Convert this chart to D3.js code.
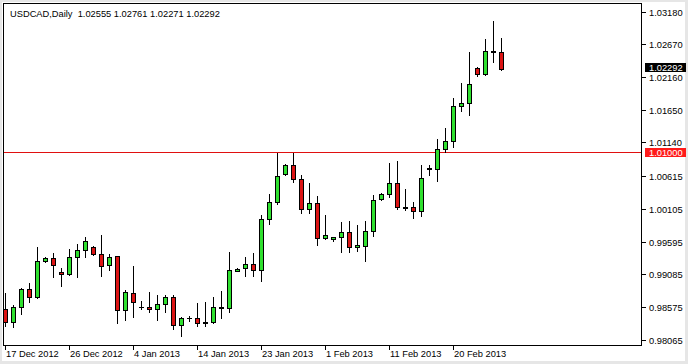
<!DOCTYPE html>
<html>
<head>
<meta charset="utf-8">
<script src="https://cdn.jsdelivr.net/npm/d3@7"></script>
<style>
    body { margin: 0; background: #fff; }
    svg text { font-family: "Liberation Sans", Arial, sans-serif; font-size: 9.3px; fill: #000; }
</style>
</head>
<body>
<svg id="chart" width="688" height="364"></svg>
<script>
const symbol = "USDCAD,Daily";

const opens = [0.98544, 0.98346, 0.98580, 0.98856, 0.98725, 0.99287, 0.99340, 0.99126, 0.99084, 0.99349,
    0.99469, 0.99505, 0.99402, 0.99230, 0.99365, 0.98528, 0.98798, 0.98575, 0.98580, 0.98544,
    0.98622, 0.98736, 0.98294, 0.98404, 0.98406, 0.98326, 0.98335, 0.98580, 0.98560, 0.99140,
    0.99184, 0.99246, 0.99152, 0.99948, 1.00218, 1.00650, 1.00795, 1.00566, 1.00104, 1.00202,
    0.99645, 0.99630, 0.99661, 0.99750, 0.99505, 0.99521, 0.99765, 1.00265, 1.00338, 1.00510,
    1.00129, 1.00140, 1.00066, 1.00740, 1.00728, 1.01040, 1.01169, 1.01705, 1.01758, 1.02303,
    1.02210, 1.02558, 1.02555];
const highs = [0.98787, 0.98611, 0.98872, 0.98943, 0.99505, 0.99352, 0.99418, 0.99184, 0.99480, 0.99558,
    0.99661, 0.99521, 0.99692, 0.99402, 0.99375, 0.98840, 0.99209, 0.98663, 0.98814, 0.98767,
    0.98767, 0.98767, 0.98424, 0.98439, 0.98631, 0.98647, 0.98736, 0.98829, 0.99438, 0.99175,
    0.99352, 0.99418, 1.00015, 1.00338, 1.00978, 1.00811, 1.00978, 1.00634, 1.00503, 1.00311,
    1.00015, 0.99672, 0.99906, 0.99921, 0.99859, 0.99921, 1.00327, 1.00345, 1.00826, 1.00850,
    1.00416, 1.00207, 1.00795, 1.00795, 1.01196, 1.01361, 1.01836, 1.02063, 1.02547, 1.02313,
    1.02756, 1.03026, 1.02761];
const lows = [0.98283, 0.98268, 0.98471, 0.98647, 0.98709, 0.99271, 0.99037, 0.98897, 0.99074, 0.99037,
    0.99349, 0.99391, 0.99053, 0.99157, 0.98319, 0.98377, 0.98424, 0.98549, 0.98491, 0.98377,
    0.98502, 0.98232, 0.98117, 0.98361, 0.98273, 0.98273, 0.98320, 0.98397, 0.98491, 0.99135,
    0.99053, 0.99053, 0.98985, 0.99870, 1.00182, 1.00639, 1.00530, 1.00035, 1.00046, 0.99542,
    0.99630, 0.99599, 0.99438, 0.99438, 0.99443, 0.99297, 0.99677, 1.00244, 1.00296, 1.00104,
    1.00088, 0.99957, 0.99988, 1.00639, 1.00545, 1.00987, 1.01065, 1.01627, 1.01570, 1.02183,
    1.02194, 1.02391, 1.02271];
const closes = [0.98335, 0.98580, 0.98856, 0.98736, 0.99287, 0.99340, 0.99230, 0.99084, 0.99355, 0.99469,
    0.99609, 0.99402, 0.99215, 0.99360, 0.98528, 0.98803, 0.98653, 0.98572, 0.98544, 0.98622,
    0.98736, 0.98294, 0.98404, 0.98406, 0.98326, 0.98335, 0.98580, 0.98560, 0.99157, 0.99170,
    0.99246, 0.99152, 0.99948, 1.00218, 1.00623, 1.00795, 1.00566, 1.00104, 1.00202, 0.99645,
    0.99698, 0.99661, 0.99750, 0.99505, 0.99542, 0.99765, 1.00244, 1.00338, 1.00510, 1.00129,
    1.00120, 1.00066, 1.00588, 1.00728, 1.01040, 1.01169, 1.01715, 1.01758, 1.02054, 1.02210,
    1.02558, 1.02555, 1.02292];

const yTicks = [1.03180, 1.02670, 1.02160, 1.01650, 1.01140, 1.00615, 1.00105, 0.99595, 0.99085, 0.98575, 0.98065];
const xTickBars = [0, 8, 16, 24, 32, 40, 48, 56];
const xTickLabels = ["17 Dec 2012", "26 Dec 2012", "4 Jan 2013", "14 Jan 2013", "23 Jan 2013", "1 Feb 2013", "11 Feb 2013", "20 Feb 2013"];
const levelLine = 1.01000;

const W = 688, H = 364;
const plotLeft = 3, plotRight = 641, plotTop = 3, plotBottom = 345;
const bull = "#2fe02f", bear = "#dc1414";
const fmt = d3.format(".5f");

const svg = d3.select("#chart");

// window frame
svg.append("rect").attr("width", W).attr("height", H).attr("fill", "#e6e6e6");
svg.append("rect").attr("x", 2).attr("y", 2).attr("width", 683).attr("height", 359).attr("fill", "#fff");

const data = opens.map((o, i) => ({i: i, o: o, h: highs[i], l: lows[i], c: closes[i]}));

const x = d3.scaleLinear().domain([0, data.length - 1]).range([5, 5 + 8 * (data.length - 1)]);
const y = d3.scaleLinear().domain([0.97982, 1.03314]).range([plotBottom, plotTop]);
const py = v => Math.round(y(v));

svg.append("clipPath").attr("id", "plot")
    .append("rect").attr("x", plotLeft).attr("y", plotTop)
    .attr("width", plotRight - plotLeft).attr("height", plotBottom - plotTop);

const g = svg.append("g").attr("clip-path", "url(#plot)").attr("shape-rendering", "crispEdges");

// level line
g.append("line")
    .attr("class", "level")
    .attr("x1", plotLeft).attr("x2", plotRight)
    .attr("y1", py(levelLine) + 1.5).attr("y2", py(levelLine) + 1.5)
    .style("stroke", "#e01010")
    .style("stroke-width", 1);

// wicks
g.selectAll("line.wick")
    .data(data)
    .join("line")
    .attr("class", "wick")
    .attr("x1", d => x(d.i) + 0.5).attr("x2", d => x(d.i) + 0.5)
    .attr("y1", d => py(d.h)).attr("y2", d => py(d.l) + 1)
    .attr("stroke", "#000");

// bodies
const bodies = data.filter(d => py(Math.min(d.o, d.c)) - py(Math.max(d.o, d.c)) >= 1);
const dojis = data.filter(d => py(Math.min(d.o, d.c)) - py(Math.max(d.o, d.c)) < 1);

g.selectAll("rect.body")
    .data(bodies)
    .join("rect")
    .attr("class", "body")
    .attr("x", d => x(d.i) - 1.5)
    .attr("width", 4)
    .attr("y", d => py(Math.max(d.o, d.c)) + 0.5)
    .attr("height", d => py(Math.min(d.o, d.c)) - py(Math.max(d.o, d.c)))
    .attr("fill", d => d.c >= d.o ? bull : bear)
    .attr("stroke", "#000");

g.selectAll("line.doji")
    .data(dojis)
    .join("line")
    .attr("class", "doji")
    .attr("x1", d => x(d.i) - 2).attr("x2", d => x(d.i) + 3)
    .attr("y1", d => py(d.c) + 0.5).attr("y2", d => py(d.c) + 0.5)
    .attr("stroke", "#000");

// frame
svg.append("rect")
    .attr("x", plotLeft + 0.5).attr("y", plotTop + 0.5)
    .attr("width", plotRight - plotLeft).attr("height", plotBottom - plotTop)
    .attr("fill", "none").attr("stroke", "#000")
    .attr("shape-rendering", "crispEdges");

// price axis
const yAxis = svg.append("g").attr("shape-rendering", "crispEdges");
yAxis.selectAll("line")
    .data(yTicks)
    .join("line")
    .attr("x1", plotRight + 1).attr("x2", plotRight + 5)
    .attr("y1", d => py(d) + 0.5).attr("y2", d => py(d) + 0.5)
    .attr("stroke", "#000");
yAxis.selectAll("text")
    .data(yTicks)
    .join("text")
    .attr("x", 649)
    .attr("y", d => py(d) + 3.5)
    .text(d => fmt(d));

// time axis
const xAxis = svg.append("g");
xAxis.selectAll("line")
    .data(xTickBars)
    .join("line")
    .attr("x1", d => x(d) + 0.5).attr("x2", d => x(d) + 0.5)
    .attr("y1", plotBottom + 1).attr("y2", plotBottom + 5)
    .attr("stroke", "#000")
    .attr("shape-rendering", "crispEdges");
xAxis.selectAll("text")
    .data(xTickBars)
    .join("text")
    .attr("x", d => x(d) + 1)
    .attr("y", 357)
    .text((d, k) => xTickLabels[k]);

// price tags
function tag(v, bg, dy) {
    const t = svg.append("g");
    t.append("rect")
        .attr("x", 645).attr("y", py(v) + dy)
        .attr("width", 41).attr("height", 9)
        .attr("fill", bg);
    t.append("text")
        .attr("x", 649).attr("y", py(v) + dy + 8)
        .style("fill", "#fff")
        .text(fmt(v));
}
tag(levelLine, "#ff1a1a", -3);
tag(closes[closes.length - 1], "#000", -6);

// header
const last = data[data.length - 1];
svg.append("text")
    .attr("x", 10).attr("y", 16.5)
    .attr("xml:space", "preserve")
    .text(symbol + "  " + [last.o, last.h, last.l, last.c].map(fmt).join(" "));
</script>
</body>
</html>
